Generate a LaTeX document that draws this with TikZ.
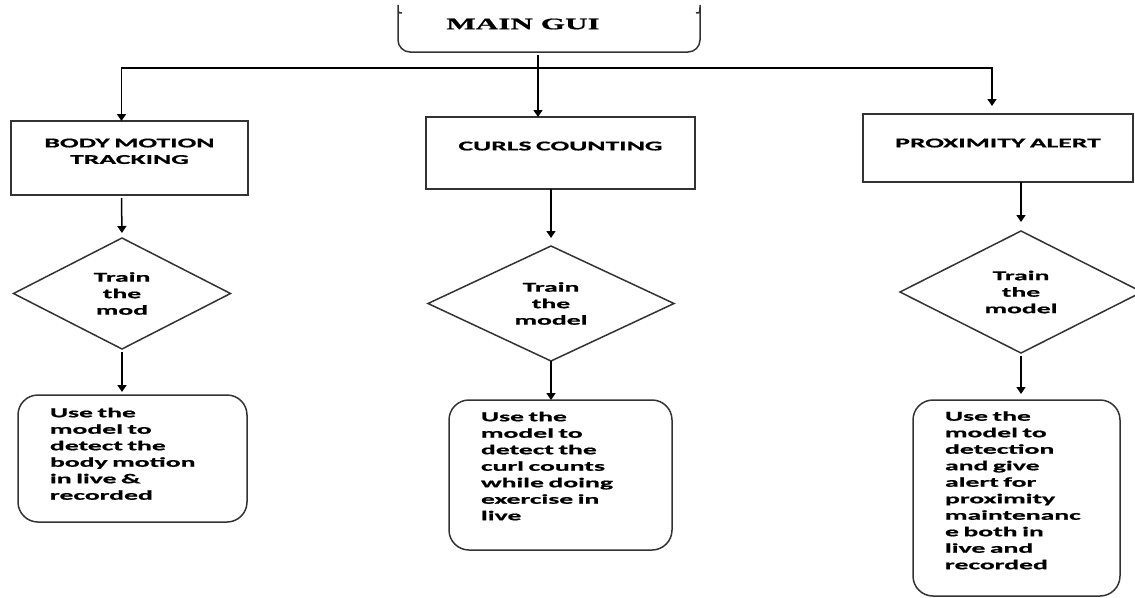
\documentclass[tikz,border=0pt]{standalone}
\usepackage{fontspec}
\setmainfont{Carlito}
\newfontfamily\boxfont[FakeStretch=2.05,FakeBold=0.8]{Carlito}
\newfontfamily\guifont[FakeStretch=1.95,FakeBold=0.8]{Liberation Serif}
\usetikzlibrary{shapes.geometric,arrows.meta}

\tikzset{
  flow/.style={draw=black!80, line width=1.5pt, outer sep=0pt,
    font=\boxfont\bfseries\fontsize{13.5}{16.5}\selectfont},
  taskbox/.style={flow, rectangle, align=center, inner xsep=4pt},
  trainbox/.style={flow, diamond, aspect=2, align=center, inner sep=0pt},
  usebox/.style={flow, rectangle, rounded corners=20pt, align=left, inner xsep=32pt},
  arr/.style={draw=black, line width=1.5pt, -{Triangle[length=7pt,width=9pt]}},
}

\begin{document}
\begin{tikzpicture}[x=1pt,y=-1pt]
\useasboundingbox (0,0) rectangle (1135,597);

% main gui
\draw[black!80, line width=1.5pt, rounded corners=12pt]
  (402,13) .. controls (398,13) .. (398,17) -- (398,52) -- (700,52)
  -- (700,17) .. controls (700,13) .. (696,13);
\node[font=\guifont\bfseries\fontsize{16}{19}\selectfont] (gui) at (523,24) {MAIN GUI};
\coordinate (guibase) at (538,55);
\coordinate (split) at (538,68);

% first row
\node[taskbox, text width=229pt, minimum height=74pt, text depth=30pt] (body) at (129.5,158) {BODY MOTION\\TRACKING};
\node[taskbox, text width=261pt, minimum height=72pt, text depth=14pt] (curls) at (560.5,153) {CURLS COUNTING};
\node[taskbox, text width=262pt, minimum height=68pt, text depth=10pt] (prox) at (998,148) {PROXIMITY ALERT};

% training
\node[trainbox, minimum width=217pt, minimum height=111pt] (train1) at (122,293.5) {Train\\the\\mod};
\node[trainbox, minimum width=246pt, minimum height=115pt] (train2) at (551,303.5) {Train\\the\\model};
\node[trainbox, minimum width=242pt, minimum height=122pt] (train3) at (1021,292) {Train\\the\\model};

% use of the model
\node[usebox, text width=165pt, minimum height=127pt, text depth=92pt] (use1) at (132.5,458.5)
  {Use the\\model to\\detect the\\body motion\\in live \&\\recorded};
\node[usebox, text width=159pt, minimum height=150pt, text depth=117pt] (use2) at (560.5,475)
  {Use the\\model to\\detect the\\curl counts\\while doing\\exercise in\\live};
\node[usebox, text width=143pt, minimum height=196pt, text depth=164pt] (use3) at (1016.5,498)
  {Use the\\model to\\detection\\and give\\alert for\\proximity\\maintenanc\\e both in\\live and\\recorded};

% connectors
\draw[arr] (guibase) -- (curls.north -| guibase);
\draw[arr] (split) -| ([xshift=-8pt]body.north);
\draw[arr, shorten >=8pt] (split) -| ([xshift=-6pt]prox.north);
\draw[arr, shorten <=3pt, shorten >=5pt] ([xshift=-8pt]body.south) -- (train1.north);
\draw[arr, shorten >=8pt] (train2.north |- curls.south) -- (train2.north);
\draw[arr, shorten >=9pt] (train3.north |- prox.south) -- (train3.north);
\draw[arr, shorten <=3pt, shorten >=3pt] (train1.south) -- (train1.south |- use1.north);
\draw[arr] (train2.south) -- (train2.south |- use2.north);
\draw[arr, shorten <=3pt, shorten >=6pt] (train3.south) -- (train3.south |- use3.north);
\end{tikzpicture}
\end{document}
